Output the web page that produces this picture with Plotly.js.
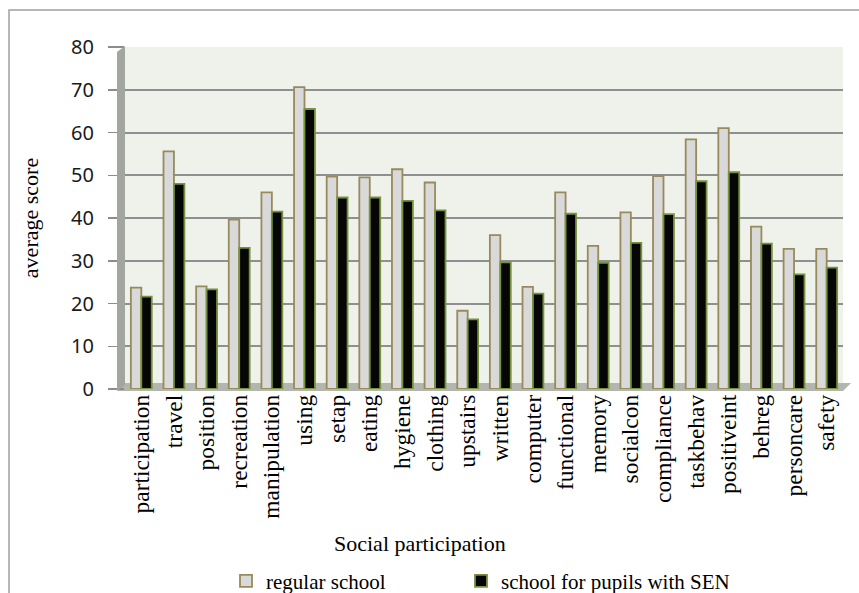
<!DOCTYPE html>
<html>
<head>
<meta charset="utf-8">
<script src="https://cdn.plot.ly/plotly-3.0.1.min.js"></script>
<style>html,body{margin:0;padding:0;background:#fff;}#chart{width:859px;height:593px;}</style>
</head>
<body>
<div id="chart"></div>
<script>
const categories = ["participation","travel","position","recreation","manipulation","using","setap","eating","hygiene","clothing","upstairs","written","computer","functional","memory","socialcon","compliance","taskbehav","positiveint","behreg","personcare","safety"];
const regularSchool = [23.7,55.6,24.0,39.6,46.0,70.6,49.7,49.5,51.4,48.3,18.3,36.0,23.9,46.0,33.5,41.3,49.8,58.4,61.0,38.0,32.8,32.8];
const senSchool = [21.6,48.0,23.3,33.0,41.5,65.5,44.8,44.8,44.0,41.8,16.3,29.6,22.3,41.0,29.5,34.2,40.9,48.6,50.7,34.0,26.8,28.4];
const seriesNames = ["regular school","school for pupils with SEN"];
const xAxisTitle = "Social participation";
const yAxisTitle = "average score";
const yTicks = [0,10,20,30,40,50,60,70,80];

const W = 859, H = 593;
const M = {l:125, r:16, t:47, b:204};
const pw = W - M.l - M.r, ph = H - M.t - M.b;
const px = x => (x - M.l) / pw;
const py = y => (H - M.b - y) / ph;
const poly = pts => 'M' + pts.map(p => px(p[0]) + ',' + py(p[1])).join(' L') + ' Z';

const serif = 'Liberation Serif, Times New Roman, serif';

const traces = [
  {type:'bar', name:seriesNames[0], x:categories, y:regularSchool, legend:'legend',
   marker:{color:'#d9d9d9', line:{color:'#978b5b', width:1.8}}},
  {type:'bar', name:seriesNames[1], x:categories, y:senSchool, legend:'legend2',
   marker:{color:'#060606', line:{color:'#76923c', width:1.8}}}
];

const legendBase = {orientation:'h', xref:'container', yref:'container', y:0.02, xanchor:'left', yanchor:'middle',
  font:{family:serif, size:21, color:'#000'}, itemwidth:30, bgcolor:'rgba(0,0,0,0)', borderwidth:0};

const layout = {
  width:W, height:H,
  margin:M,
  paper_bgcolor:'#ffffff',
  plot_bgcolor:'#eff1eb',
  barmode:'group', bargap:0.36, bargroupgap:0,
  showlegend:true,
  legend:Object.assign({}, legendBase, {x:(246-20)/W}),
  legend2:Object.assign({}, legendBase, {x:(481-20)/W}),
  xaxis:{
    tickangle:-90,
    tickfont:{family:serif, size:23.5, color:'#000'},
    showline:false, ticks:'', showgrid:false, zeroline:false,
    automargin:false
  },
  yaxis:{
    range:[0,80], tickvals:yTicks, ticktext:yTicks.map(String),
    tickfont:{family:'Noto Sans, sans-serif', size:20, color:'#1a1a1a'},
    ticks:'outside', ticklen:16, tickcolor:'#8c8c8c', tickwidth:1.5, ticklabelstandoff:10,
    showgrid:true, gridcolor:'#8f8f8f', gridwidth:2, zeroline:false, showline:false,
    title:{text:yAxisTitle, font:{family:serif, size:22, color:'#000'}, standoff:26},
    automargin:false
  },
  annotations:[
    {text:xAxisTitle, xref:'paper', yref:'paper', x:px(420), y:py(543), xanchor:'center', yanchor:'middle',
     showarrow:false, font:{family:serif, size:22, color:'#000'}}
  ],
  shapes:[
    {type:'path', xref:'paper', yref:'paper', layer:'above', path:poly([[117,52],[125,46],[125,385],[117,391]]), fillcolor:'#a3a69f', line:{width:0}},
    {type:'path', xref:'paper', yref:'paper', layer:'below', path:poly([[117,391],[125,383],[851,383],[843,391]]), fillcolor:'#b3b5af', line:{width:0}},
    {type:'path', xref:'paper', yref:'paper', layer:'above', path:poly([[9,1000],[9,10],[900,10]]).replace(' Z',''), line:{color:'#a0a0a0', width:1.5}}
  ]
};

Plotly.newPlot('chart', traces, layout, {displayModeBar:false, staticPlot:true});
</script>
</body>
</html>
